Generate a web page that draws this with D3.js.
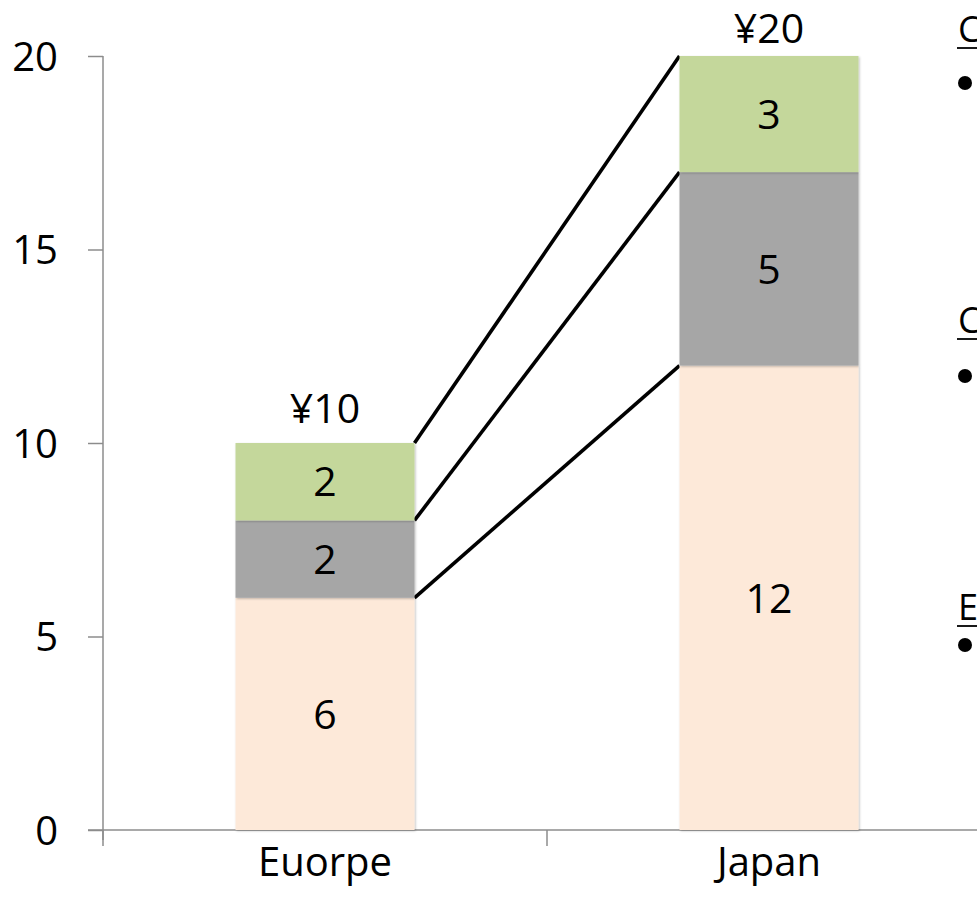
<!DOCTYPE html>
<html lang="en">
<head>
<meta charset="UTF-8">
<title>Stacked price comparison</title>
<script src="https://d3js.org/d3.v7.min.js"></script>
<style>
  body { margin: 0; background: #fff; overflow: hidden; }
  text { font-family: "Open Sans", sans-serif; fill: #000; }
  .axis path, .axis line { stroke: #8c8c8c; stroke-width: 1.5; }
  .axis text { font-size: 40px; fill: #000; }
</style>
</head>
<body>
<div id="chart"></div>
<script>
// data
const regions = ["Euorpe", "Japan"];
const layers = ["base", "middle", "top"];
const baseValues = [6, 12];
const middleValues = [2, 5];
const topValues = [2, 3];
const totalLabels = ["¥10", "¥20"];
const yTicks = [0, 5, 10, 15, 20];
const notes = ["C", "C", "E"];

const colors = { base: "#fde9d9", middle: "#a6a6a6", top: "#c4d79b" };

const W = 977, H = 913;
const svg = d3.select("#chart").append("svg")
  .attr("width", W).attr("height", H);

const defs = svg.append("defs");
defs.append("filter").attr("id", "shadow")
  .attr("x", "-5%").attr("y", "-5%").attr("width", "110%").attr("height", "110%")
  .append("feDropShadow")
  .attr("dx", 1).attr("dy", 1).attr("stdDeviation", 1.2)
  .attr("flood-color", "#000").attr("flood-opacity", 0.25);

const x0 = 103, x1 = 991;
const x = d3.scaleBand().domain(regions).range([x0, x1]).paddingInner(0).paddingOuter(0);
const y = d3.scaleLinear().domain([0, 20]).range([830, 56]);
const barW = 179;

const table = regions.map((r, i) => ({
  region: r, base: baseValues[i], middle: middleValues[i], top: topValues[i]
}));
const stacked = d3.stack().keys(layers)(table);

// axes
svg.append("g").attr("class", "axis")
  .attr("transform", `translate(${x0},0)`)
  .call(d3.axisLeft(y).tickValues(yTicks).tickSize(15).tickPadding(30))
  .call(g => g.select(".domain").attr("d", `M0,${y(20)}V${y(0) + 10}`))
  .call(g => g.selectAll("text").attr("dy", "0.36em"));

const xAxis = svg.append("g").attr("class", "axis")
  .attr("transform", `translate(0,${y(0)})`);
xAxis.append("line").attr("x1", x0 - 15).attr("x2", W).attr("y1", 0).attr("y2", 0);
xAxis.selectAll(".tick").data([x0, x0 + x.step()]).enter().append("line")
  .attr("x1", d => d).attr("x2", d => d).attr("y1", 0).attr("y2", 16);
xAxis.selectAll(".cat").data(regions).enter().append("text")
  .attr("x", d => x(d) + x.bandwidth() / 2)
  .attr("y", 46)
  .attr("text-anchor", "middle")
  .style("font-size", "40px")
  .text(d => d);

const barX = d => x(d) + x.bandwidth() / 2 - barW / 2;

// connector lines between the bars
const connectors = stacked.map(s => ({
  x1: barX(regions[0]) + barW, y1: y(s[0][1]),
  x2: barX(regions[1]), y2: y(s[1][1])
}));
svg.selectAll(".conn").data(connectors).enter().append("line")
  .attr("x1", d => d.x1).attr("y1", d => d.y1)
  .attr("x2", d => d.x2).attr("y2", d => d.y2)
  .attr("stroke", "#000").attr("stroke-width", 3.6);

// stacked bars
const layer = svg.selectAll(".layer").data(stacked).enter().append("g")
  .attr("fill", d => colors[d.key]);
layer.selectAll("rect").data(d => d).enter().append("rect")
  .attr("x", d => barX(d.data.region))
  .attr("y", d => y(d[1]))
  .attr("width", barW)
  .attr("height", d => y(d[0]) - y(d[1]))
  .attr("filter", "url(#shadow)");

layer.selectAll("text").data(d => d).enter().append("text")
  .attr("x", d => barX(d.data.region) + barW / 2)
  .attr("y", d => (y(d[0]) + y(d[1])) / 2)
  .attr("dy", "0.36em")
  .attr("text-anchor", "middle")
  .style("font-size", "41px")
  .text(d => d[1] - d[0]);

// totals
svg.selectAll(".total").data(table).enter().append("text")
  .attr("x", d => barX(d.region) + barW / 2)
  .attr("y", (d, i) => y(d.base + d.middle + d.top) - (i === 0 ? 20 : 13))
  .attr("text-anchor", "middle")
  .style("font-size", "41px")
  .text((d, i) => totalLabels[i]);

// side notes (cut off at the window edge, as in the original)
const noteY = [42, 333, 620];
const bulletY = [83, 376, 645];
notes.forEach((n, i) => {
  svg.append("text").attr("x", 958).attr("y", noteY[i])
    .style("font-size", "36px").text(n);
  svg.append("line").attr("x1", 957).attr("x2", W)
    .attr("y1", noteY[i] + 6).attr("y2", noteY[i] + 6)
    .attr("stroke", "#000").attr("stroke-width", 1.8);
  svg.append("circle").attr("cx", 965).attr("cy", bulletY[i]).attr("r", 7);
});
</script>
</body>
</html>
